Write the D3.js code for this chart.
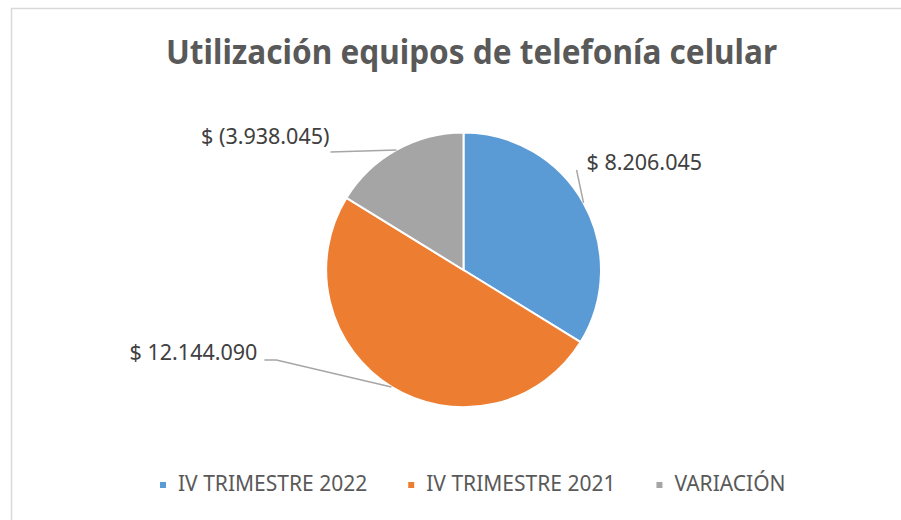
<!DOCTYPE html>
<html>
<head>
<meta charset="utf-8">
<script src="https://cdn.jsdelivr.net/npm/d3@7"></script>
<style>
  html, body { margin: 0; padding: 0; background: #fff; }
  svg { display: block; font-family: "Noto Sans", sans-serif; }
</style>
</head>
<body>
<div id="chart"></div>
<script>
const title = "Utilización equipos de telefonía celular";
const categories = ["IV TRIMESTRE 2022", "IV TRIMESTRE 2021", "VARIACIÓN"];
const values = [8206045, 12144090, -3938045];
const colors = ["#5B9BD5", "#ED7D31", "#A5A5A5"];

const width = 901, height = 520;
const cx = 463.5, cy = 270, radius = 137.5;

// leader elbow offset from slice edge, and where the text goes from the elbow
const labelLayout = [
  { ex: -7, ey: -33, tail: 0, tx: 10, ty: 0, anchor: "start" },
  { ex: -115, ey: -27, tail: -12, tx: -19, ty: 0, anchor: "end" },
  { ex: -66, ey: 2, tail: 0, tx: -1, ty: -8, anchor: "end" }
];

const locale = d3.formatLocale({ decimal: ",", thousands: ".", grouping: [3], currency: ["$", ""] });
const num = locale.format(",d");
const money = (v) => (v < 0 ? "$ (" + num(-v) + ")" : "$ " + num(v));

const svg = d3.select("#chart").append("svg")
  .attr("width", width)
  .attr("height", height);

svg.append("rect")
  .attr("x", 11.5).attr("y", 8.5)
  .attr("width", width).attr("height", height)
  .attr("fill", "#fff")
  .attr("stroke", "#d9d9d9")
  .attr("stroke-width", 1.5);

// shrink text to a target width (Calibri is narrower than the fonts we have)
function fit(sel, w) {
  sel.each(function () {
    const len = this.getComputedTextLength();
    if (len > w) d3.select(this).attr("textLength", w).attr("lengthAdjust", "spacingAndGlyphs");
  });
}

svg.append("text")
  .attr("x", 471.5).attr("y", 64)
  .attr("text-anchor", "middle")
  .style("font-size", "34px")
  .style("font-weight", "bold")
  .attr("fill", "#595959")
  .text(title)
  .call(fit, 611);

const data = categories.map((c, i) => ({ name: c, value: values[i], color: colors[i], layout: labelLayout[i] }));

const pie = d3.pie().sort(null).value((d) => Math.abs(d.value));
const arc = d3.arc().innerRadius(0).outerRadius(radius);
const arcs = pie(data);

const g = svg.append("g").attr("transform", "translate(" + cx + "," + cy + ")");

g.selectAll("path")
  .data(arcs)
  .enter()
  .append("path")
  .attr("d", arc)
  .attr("fill", (d) => d.data.color)
  .attr("stroke", "#fff")
  .attr("stroke-width", 2);

// labels with leader lines
arcs.forEach((a) => {
  const mid = (a.startAngle + a.endAngle) / 2;
  const px = radius * Math.sin(mid), py = -radius * Math.cos(mid);
  const L = a.data.layout;
  const ex = px + L.ex, ey = py + L.ey;
  const pts = [[px, py], [ex, ey]];
  if (L.tail) pts.push([ex + L.tail, ey]);
  g.append("path")
    .attr("d", d3.line()(pts))
    .attr("fill", "none")
    .attr("stroke", "#a6a6a6")
    .attr("stroke-width", 1.5);
  g.append("text")
    .attr("x", ex + L.tx)
    .attr("y", ey + L.ty)
    .attr("text-anchor", L.anchor)
    .style("font-size", "21.5px")
    .attr("fill", "#404040")
    .text(money(a.data.value));
});

// legend
const legend = svg.append("g");
const legendY = 491;
let lx = 160;
data.forEach((d) => {
  legend.append("rect")
    .attr("x", lx).attr("y", legendY - 9)
    .attr("width", 6).attr("height", 6)
    .attr("fill", d.color);
  const t = legend.append("text")
    .attr("x", lx + 18).attr("y", legendY)
    .style("font-size", "21px")
    .attr("fill", "#595959")
    .text(d.name);
  const w = t.node().getComputedTextLength();
  lx += 18 + w + 41;
});
</script>
</body>
</html>
